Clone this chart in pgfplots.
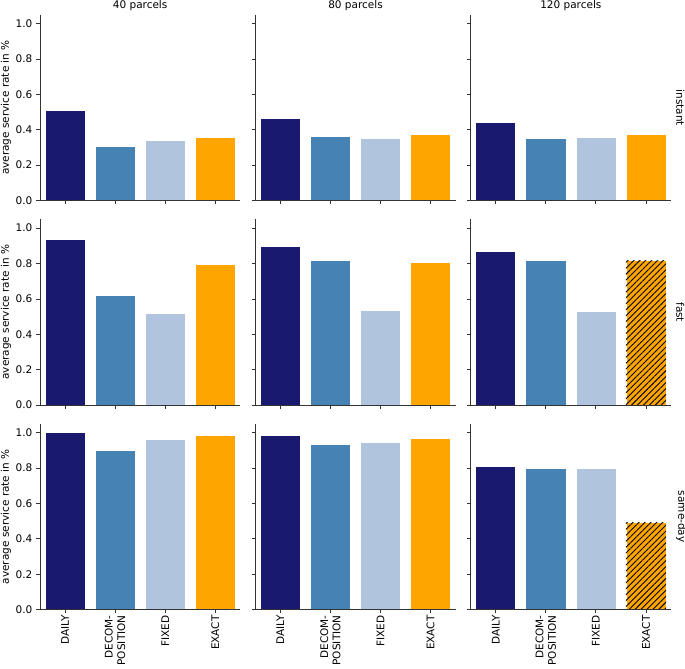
\documentclass[border=0pt]{standalone}
\usepackage{fontspec}
\setmainfont{DejaVu Sans}
\usepackage{pgfplots}
\pgfplotsset{compat=1.18}
\usepgfplotslibrary{groupplots}
\usetikzlibrary{patterns,patterns.meta}
\definecolor{cDaily}{HTML}{191970}
\definecolor{cDecomp}{HTML}{4682B4}
\definecolor{cFixed}{HTML}{B0C4DE}
\definecolor{cExact}{HTML}{FFA500}
\definecolor{axc}{HTML}{333333}
\pgfplotsset{
  panel/.style={
    scale only axis, width=200.5pt, height=186pt,
    xmin=-0.5, xmax=3.5, ymin=0, ymax=1.05,
    axis on top,
    axis x line*=bottom, axis y line*=left,
    axis line style={line width=0.8pt, axc, -},
    every tick/.style={line width=0.8pt, axc},
    tick align=outside, major tick length=3.5pt,
    xtick={0,1,2,3}, ytick={0,0.2,0.4,0.6,0.8,1.0},
    xticklabels={}, yticklabels={},
    xticklabel style={rotate=90, anchor=east, align=right, inner sep=2pt},
    yticklabel style={inner sep=4pt},
    title style={yshift=-2.5pt, inner sep=0pt},
    ylabel style={at={(axis description cs:-0.17,0.5)}, anchor=center},
    clip=false,
  },
  lefty/.style={yticklabels={0.0,0.2,0.4,0.6,0.8,1.0}, ylabel={average service rate in \%}},
  botx/.style={xticklabels={DAILY,{DECOM-\\POSITION},FIXED,EXACT}},
  mybar/.style={ybar, bar width=0.8, bar shift=0pt, draw=white, line width=0.6pt},
  bD/.style={mybar, fill=cDaily},
  bC/.style={mybar, fill=cDecomp},
  bF/.style={mybar, fill=cFixed},
  bE/.style={mybar, fill=cExact},
  bH/.style={ybar, bar width=0.8, bar shift=0pt, draw=none, pattern={Lines[angle=45,distance=4.2pt,line width=0.9pt]}, pattern color=black},
}
\newcommand{\rowlabel}[1]{\node[rotate=-90, anchor=south, inner sep=0pt] at ([xshift=5pt]rel axis cs:1,0.5) {#1};}
\begin{document}
\fontsize{10.5}{12.4}\selectfont
\begin{tikzpicture}[font=\fontsize{10.5}{12.4}\selectfont]
\begin{groupplot}[group style={group size=3 by 3, horizontal sep=15pt, vertical sep=18.7pt}, panel]
% row 1: instant
\nextgroupplot[lefty, title={40 parcels}]
\addplot[bD] coordinates {(0,0.509)};
\addplot[bC] coordinates {(1,0.309)};
\addplot[bF] coordinates {(2,0.342)};
\addplot[bE] coordinates {(3,0.358)};
\nextgroupplot[title={80 parcels}]
\addplot[bD] coordinates {(0,0.466)};
\addplot[bC] coordinates {(1,0.364)};
\addplot[bF] coordinates {(2,0.353)};
\addplot[bE] coordinates {(3,0.375)};
\nextgroupplot[title={120 parcels}]
\addplot[bD] coordinates {(0,0.443)};
\addplot[bC] coordinates {(1,0.349)};
\addplot[bF] coordinates {(2,0.355)};
\addplot[bE] coordinates {(3,0.375)};
\rowlabel{instant}
% row 2: fast
\nextgroupplot[lefty]
\addplot[bD] coordinates {(0,0.938)};
\addplot[bC] coordinates {(1,0.618)};
\addplot[bF] coordinates {(2,0.517)};
\addplot[bE] coordinates {(3,0.795)};
\nextgroupplot
\addplot[bD] coordinates {(0,0.895)};
\addplot[bC] coordinates {(1,0.816)};
\addplot[bF] coordinates {(2,0.534)};
\addplot[bE] coordinates {(3,0.808)};
\nextgroupplot
\addplot[bD] coordinates {(0,0.868)};
\addplot[bC] coordinates {(1,0.816)};
\addplot[bF] coordinates {(2,0.528)};
\addplot[bE] coordinates {(3,0.818)};
\addplot[bH] coordinates {(3,0.818)};
\rowlabel{fast}
% row 3: same-day
\nextgroupplot[lefty, botx]
\addplot[bD] coordinates {(0,1.000)};
\addplot[bC] coordinates {(1,0.900)};
\addplot[bF] coordinates {(2,0.960)};
\addplot[bE] coordinates {(3,0.984)};
\nextgroupplot[botx]
\addplot[bD] coordinates {(0,0.983)};
\addplot[bC] coordinates {(1,0.932)};
\addplot[bF] coordinates {(2,0.945)};
\addplot[bE] coordinates {(3,0.968)};
\nextgroupplot[botx]
\addplot[bD] coordinates {(0,0.810)};
\addplot[bC] coordinates {(1,0.798)};
\addplot[bF] coordinates {(2,0.800)};
\addplot[bE] coordinates {(3,0.491)};
\addplot[bH] coordinates {(3,0.491)};
\rowlabel{same-day}
\end{groupplot}
\pgfresetboundingbox
\path ([shift={(-40pt,14.7pt)}]group c1r1.north west) rectangle ([shift={(14pt,-59pt)}]group c3r3.south east);
\end{tikzpicture}
\end{document}
